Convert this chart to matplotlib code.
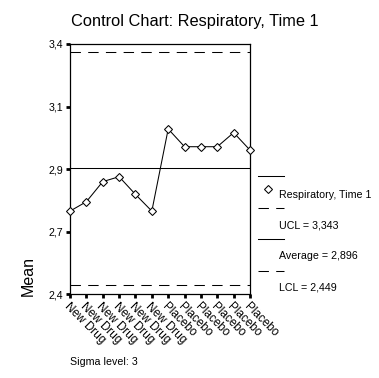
import matplotlib.pyplot as plt
from matplotlib.lines import Line2D
import numpy as np

plt.rcParams['font.family'] = ['Liberation Sans', 'DejaVu Sans']

groups = ['New Drug'] * 6 + ['Placebo'] * 6
means = [2.732, 2.768, 2.845, 2.864, 2.796, 2.732,
         3.047, 2.979, 2.979, 2.979, 3.033, 2.966]
ucl = 3.343
average = 2.896
lcl = 2.449
sigma_level = 3
y_range = (2.414, 3.373)


def fmt(v, nd):
    return f'{v:.{nd}f}'.replace('.', ',')


def main() -> None:
    fig = plt.figure(figsize=(3.79, 3.78), dpi=100)
    ax = fig.add_axes([0.1847, 0.2222, 0.475, 0.6614])

    x = np.arange(len(means))
    ax.plot(x, means, color='black', lw=0.75, marker='D', ms=3.6,
            mfc='white', mec='black', mew=0.75, zorder=3, clip_on=False)
    dash = (0, (10, 7))
    ax.axhline(ucl, color='black', lw=0.75, ls=dash)
    ax.axhline(average, color='black', lw=0.75)
    ax.axhline(lcl, color='black', lw=0.75, ls=dash)

    ax.set_xlim(0, len(means) - 1)
    ax.set_ylim(*y_range)
    yt = np.linspace(y_range[0], y_range[1], 5)
    ax.set_yticks(yt)
    ax.set_yticklabels([fmt(v, 1) for v in yt], fontsize=7.7)
    ax.set_xticks(x)
    ax.set_xticklabels(groups, fontsize=8.5, rotation=-45, ha='left',
                       va='top', rotation_mode='anchor')
    ax.tick_params(axis='both', direction='out', length=3, width=2,
                   color='black', pad=2)
    for s in ax.spines.values():
        s.set_linewidth(0.9)

    fig.text(0.514, 0.944, 'Control Chart: Respiratory, Time 1',
             fontsize=11.8, ha='center', va='center')
    fig.text(0.074, 0.27, 'Mean', fontsize=11.5, rotation=90,
             ha='center', va='center')
    fig.text(0.185, 0.042, f'Sigma level: {sigma_level}', fontsize=7.7,
             ha='left', va='center')

    # legend, SPSS style: sample above label
    lx0, lx1, tx = 258 / 379, 284 / 379, 279 / 379
    items = [
        ('-', 176, 'Respiratory, Time 1', 195),
        ('--', 208, f'UCL = {fmt(ucl, 3)}', 225),
        ('-', 239, f'Average = {fmt(average, 3)}', 256),
        ('--', 271, f'LCL = {fmt(lcl, 3)}', 288),
    ]
    for ls, ly, label, ty in items:
        fig.add_artist(Line2D([lx0, lx1], [1 - ly / 378] * 2, color='black',
                              lw=0.75, ls=dash if ls == '--' else '-'))
        fig.text(tx, 1 - ty / 378, label, fontsize=7.7, ha='left',
                 va='center')
    fig.add_artist(Line2D([268 / 379], [1 - 189 / 378], marker='D', ms=3.6,
                          mfc='white', mec='black', mew=0.75, ls='none'))

    fig.savefig('out.png', dpi=100)


if __name__ == "__main__":
    main()
